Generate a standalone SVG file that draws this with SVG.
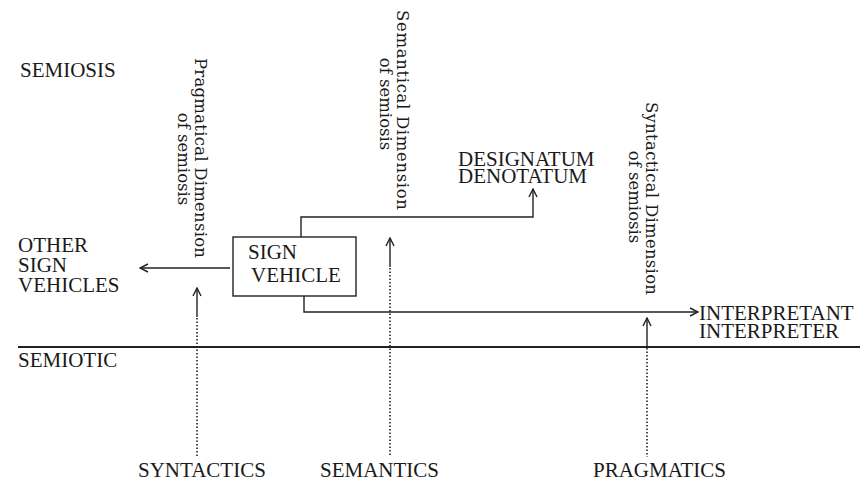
<svg xmlns="http://www.w3.org/2000/svg" width="860" height="488" viewBox="0 0 860 488">
<defs>
<style>
.cap{font-family:"Liberation Serif","Times New Roman",serif;font-size:21px;fill:#1a1a1a}
.rot{font-family:"DejaVu Serif","Liberation Serif",serif;font-size:16.5px;fill:#1a1a1a}
.ln{stroke:#222;stroke-width:1.4;fill:none}
.base{stroke:#222;stroke-width:1.8;fill:none}
.dot{stroke:#222;stroke-width:1.6;fill:none;stroke-dasharray:1.5 2}
</style>
<marker id="arr" viewBox="0 0 10 10" refX="9" refY="5" markerWidth="10" markerHeight="10" markerUnits="userSpaceOnUse" orient="auto">
<path d="M1,1 L9,5 L1,9" fill="none" stroke="#222" stroke-width="1.4"/>
</marker>
</defs>
<rect width="860" height="488" fill="#fff"/>

<g id="semiosis-label"><text class="cap" x="20" y="77">SEMIOSIS</text></g>
<g id="semiotic-label"><text class="cap" x="18" y="367">SEMIOTIC</text></g>

<g id="pragmatical-dimension">
<text class="rot" transform="translate(195,58) rotate(90)" textLength="200" lengthAdjust="spacing">Pragmatical Dimension</text>
<text class="rot" transform="translate(178,159) rotate(90)" text-anchor="middle">of semiosis</text>
</g>
<g id="semantical-dimension">
<text class="rot" transform="translate(397,10) rotate(90)" textLength="200" lengthAdjust="spacing">Semantical Dimension</text>
<text class="rot" transform="translate(380,104) rotate(90)" text-anchor="middle">of semiosis</text>
</g>
<g id="syntactical-dimension">
<text class="rot" transform="translate(646,102) rotate(90)" textLength="193" lengthAdjust="spacing">Syntactical Dimension</text>
<text class="rot" transform="translate(629,197) rotate(90)" text-anchor="middle">of semiosis</text>
</g>

<g id="designatum">
<text class="cap" x="458" y="166">DESIGNATUM</text>
<text class="cap" x="458" y="183">DENOTATUM</text>
</g>

<g id="other-sign-vehicles">
<text class="cap" x="18" y="252">OTHER</text>
<text class="cap" x="18" y="272">SIGN</text>
<text class="cap" x="18" y="292">VEHICLES</text>
</g>

<g id="sign-vehicle">
<rect class="ln" x="233" y="237" width="123" height="59"/>
<text class="cap" x="248" y="259">SIGN</text>
<text class="cap" x="251" y="282">VEHICLE</text>
</g>

<g id="interpretant">
<text class="cap" x="699" y="320">INTERPRETANT</text>
<text class="cap" x="699" y="338">INTERPRETER</text>
</g>

<g id="syntactics"><text class="cap" x="138" y="477">SYNTACTICS</text></g>
<g id="semantics"><text class="cap" x="320" y="477">SEMANTICS</text></g>
<g id="pragmatics"><text class="cap" x="593" y="477">PRAGMATICS</text></g>

<g id="connectors">
<line class="base" x1="18" y1="347" x2="860" y2="347"/>
<line class="ln" x1="230" y1="268" x2="140" y2="268" marker-end="url(#arr)"/>
<polyline class="ln" points="301,237 301,217 533,217 533,189" marker-end="url(#arr)"/>
<polyline class="ln" points="304,296 304,312 698,312" marker-end="url(#arr)"/>
<line class="ln" x1="197" y1="317" x2="197" y2="288" marker-end="url(#arr)"/>
<line class="dot" x1="197" y1="318" x2="197" y2="457"/>
<line class="ln" x1="390" y1="267" x2="390" y2="238" marker-end="url(#arr)"/>
<line class="dot" x1="390" y1="268" x2="390" y2="457"/>
<line class="ln" x1="647" y1="347" x2="647" y2="318" marker-end="url(#arr)"/>
<line class="dot" x1="647" y1="348" x2="647" y2="457"/>
</g>
</svg>
